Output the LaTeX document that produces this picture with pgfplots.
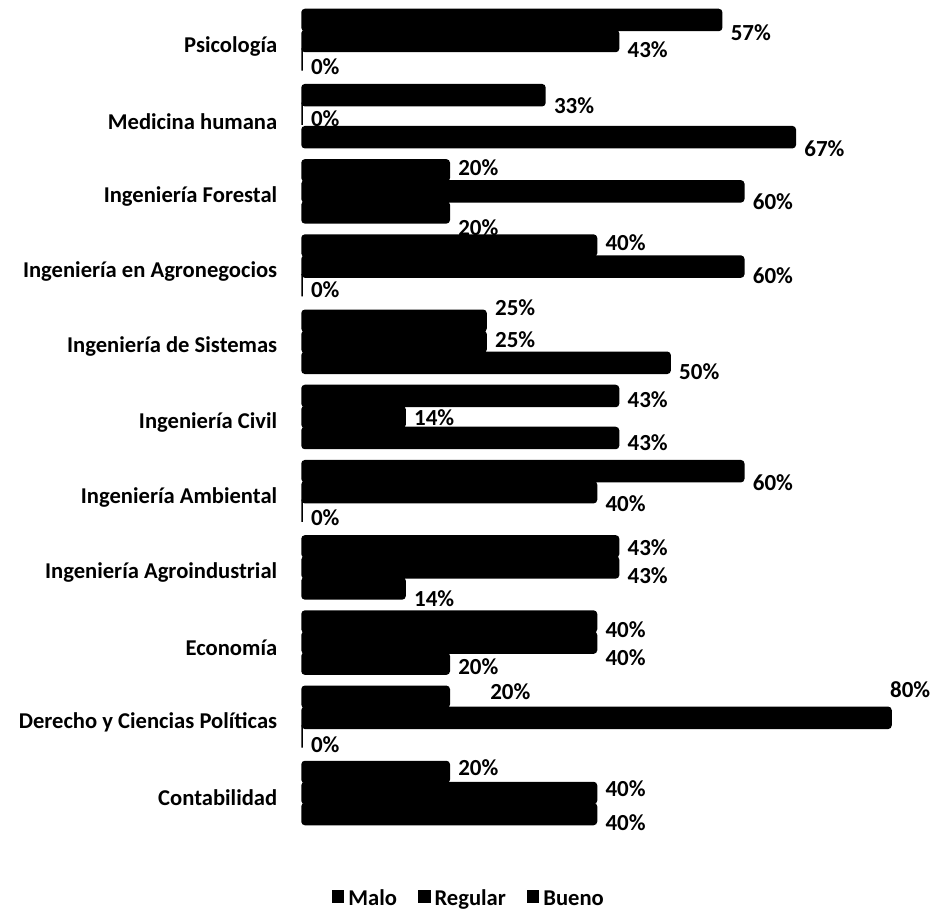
\documentclass[border=0pt]{standalone}
\usepackage{fontspec}
\setmainfont{Carlito}
\usepackage{pgfplots}
\pgfplotsset{compat=1.18}
\usepackage{pgfplotstable}

% Malo (bottom bar of each group)
\pgfplotstableread{
y x dx dy
10 0 0 -5
9 67 0 -11
8 20 0 -15
7 0 0 -2
6 50 0 -9
5 43 0 -5
4 0 0 -4
3 14 0 -10
2 20 0 -3
1 0 0 -6
0 40 0 -9
}\malo
% Regular (middle bar)
\pgfplotstableread{
y x dx dy
10 43 0 -9
9 0 0 -2
8 60 0 -10
7 60 0 -9
6 25 0 2
5 14 0 -1
4 40 0 -11
3 43 0 -8
2 40 0 -15
1 80 -10 28
0 40 0 4
}\regular
% Bueno (top bar)
\pgfplotstableread{
y x dx dy
10 57 0 -13
9 33 0 -10
8 20 0 3
7 40 0 3
6 25 0 13
5 43 0 -4
4 60 0 -11
3 43 0 -1
2 40 0 -8
1 20 32 5
0 20 0 4
}\bueno

\begin{document}
\begin{tikzpicture}
\begin{axis}[
  name=ax,
  scale only axis,
  width=589pt, height=827.2pt,
  xbar=0pt, bar width=21pt,
  xmin=0, xmax=80, ymin=-0.5, ymax=10.5,
  axis line style={draw=none},
  tick style={draw=none},
  xtick=\empty,
  ytick={0,1,2,3,4,5,6,7,8,9,10},
  yticklabels={Contabilidad, Derecho y Ciencias Políticas, Economía, Ingeniería Agroindustrial, Ingeniería Ambiental, Ingeniería Civil, Ingeniería de Sistemas, Ingeniería en Agronegocios, Ingeniería Forestal, Medicina humana, Psicología},
  yticklabel style={font=\fontsize{22.6}{26}\selectfont\bfseries, xshift=-17pt, yshift=-5pt},
  /pgf/number format/assume math mode=true,
  point meta=x,
  nodes near coords={\pgfmathprintnumber{\pgfplotspointmeta}\%},
  nodes near coords style={font=\fontsize{23}{26}\selectfont\bfseries, text=black, sharp corners},
  visualization depends on={\thisrow{dx} \as \dx},
  visualization depends on={\thisrow{dy} \as \dy},
  every node near coord/.append style={xshift=\dx pt+5pt, yshift=\dy pt},
  clip=false,
  legend columns=3,
  legend style={draw=none, fill=none, at={(0.285,-0.084)}, anchor=center,
    font=\fontsize{22.6}{26}\selectfont\bfseries,
    nodes={inner xsep=4pt, text height=0.72em, text depth=0.22em},
    /tikz/every even column/.append style={column sep=17pt}},
  legend image code/.code={\fill[black, sharp corners] (-5pt,1pt) rectangle (6pt,12pt);},
]
\addplot[fill=black, draw=black, line width=1.5pt, rounded corners=3pt] table[x=x,y=y] {\malo};
\addlegendentry{Malo}
\addplot[fill=black, draw=black, line width=1.5pt, rounded corners=3pt] table[x=x,y=y] {\regular};
\addlegendentry{Regular}
\addplot[fill=black, draw=black, line width=1.5pt, rounded corners=3pt] table[x=x,y=y] {\bueno};
\addlegendentry{Bueno}
\end{axis}
\pgfresetboundingbox
\path ([xshift=-302pt,yshift=-83.4pt]ax.south west) rectangle ([xshift=39pt,yshift=3.4pt]ax.north east);
\end{tikzpicture}
\end{document}
